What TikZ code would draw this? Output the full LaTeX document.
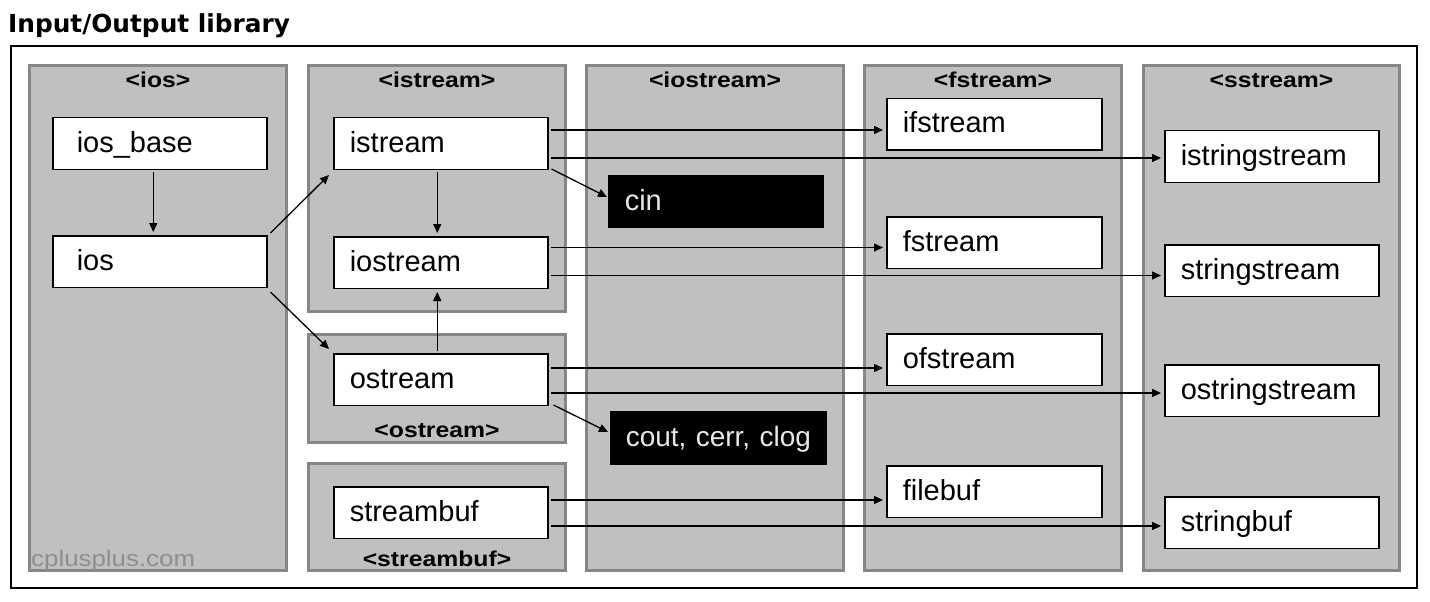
\documentclass[tikz,border=0pt]{standalone}
\usepackage{fontspec}
\setmainfont{Liberation Sans}
\newfontfamily\titlefont{DejaVu Sans}
\newfontfamily\hdrfamily[FakeStretch=1.15]{Liberation Sans}
\usetikzlibrary{arrows.meta}
\definecolor{panelfill}{HTML}{C0C0C0}
\definecolor{panelline}{HTML}{868686}
\definecolor{wmgray}{HTML}{8E8E8E}
\definecolor{inv}{HTML}{E8E8E8}
\begin{document}
\begin{tikzpicture}[x=1bp,y=-1bp,
  panel/.style={draw=panelline, fill=panelfill, line width=3bp, anchor=north west, inner sep=0pt},
  hdr/.style={anchor=base, inner sep=0pt, font=\hdrfamily\bfseries\fontsize{21.5bp}{25bp}\selectfont},
  box/.style={draw=black, fill=white, line width=1.5bp, anchor=north west, minimum height=51.5bp,
    inner xsep=16bp, inner ysep=0pt, text width=182bp, align=left, text height=21bp, text depth=4bp,
    font=\fontsize{29bp}{34bp}\selectfont},
  iosbox/.style={box, inner xsep=24bp, text width=166bp},
  blackbox/.style={box, fill=black, text=inv},
  arr/.style={line width=1.3bp, -{Triangle[length=9bp,width=8bp]}, shorten <=2bp, shorten >=3bp},
  darr/.style={line width=1.3bp, -{Triangle[length=9bp,width=8bp]}}
]
\useasboundingbox[fill=white] (0,0) rectangle (1430,602);

\node[anchor=base west, inner sep=0pt, font=\titlefont\bfseries\fontsize{24.8bp}{30bp}\selectfont] (title) at (8,33) {Input/Output library};

\node[draw=black, line width=2bp, anchor=north west, minimum width=1406bp, minimum height=541.5bp, inner sep=0pt] (frame) at (10,45.5) {};

% panels
\node[panel, minimum width=257bp, minimum height=505bp] (pios) at (28,64) {};
\node[panel, minimum width=257bp, minimum height=246bp] (pistream) at (307,64) {};
\node[panel, minimum width=257bp, minimum height=108bp] (postream) at (307,333) {};
\node[panel, minimum width=257bp, minimum height=107bp] (pstreambuf) at (307,462) {};
\node[panel, minimum width=257bp, minimum height=505bp] (piostream) at (585,64) {};
\node[panel, minimum width=257bp, minimum height=505bp] (pfstream) at (863,64) {};
\node[panel, minimum width=256bp, minimum height=505bp] (psstream) at (1142,64) {};

% headers
\node[hdr] (hios) at (158,87.5) {<ios>};
\node[hdr] (histream) at (437,87.5) {<istream>};
\node[hdr] (hiostream) at (715,87.5) {<iostream>};
\node[hdr] (hfstream) at (993,87.5) {<fstream>};
\node[hdr] (hsstream) at (1271.5,87.5) {<sstream>};
\node[hdr] (hostream) at (437,437) {<ostream>};
\node[hdr] (hstreambuf) at (437,566) {<streambuf>};

\node[anchor=base west, inner sep=0pt, text=wmgray, font=\hdrfamily\fontsize{22.5bp}{26bp}\selectfont] (wm) at (31,566) {cplusplus.com};

% boxes
\node[iosbox] (iosbase) at (52,117) {ios\_base};
\node[iosbox] (ios) at (52,235) {ios};
\node[box] (istream) at (333,117) {istream};
\node[box] (iostream) at (333,236) {iostream};
\node[box] (ostream) at (333,353) {ostream};
\node[box] (streambuf) at (333,486) {streambuf};
\node[blackbox] (cin) at (608,175) {cin};
\node[blackbox, inner xsep=15bp, text width=185bp, minimum height=52.5bp, font=\fontsize{28bp}{33bp}\selectfont] (cout) at (610,411) {\mbox{cout, cerr, clog}};
\node[box, text width=183bp] (ifstream) at (886,98) {ifstream};
\node[box, text width=183bp] (fstream) at (886,216) {fstream};
\node[box, text width=183bp] (ofstream) at (886,333) {ofstream};
\node[box, text width=183bp] (filebuf) at (886,465) {filebuf};
\node[box] (istringstream) at (1164,130) {istringstream};
\node[box] (stringstream) at (1164,244) {stringstream};
\node[box] (ostringstream) at (1164,364) {ostringstream};
\node[box] (stringbuf) at (1164,496) {stringbuf};

% connector start points
\coordinate (s1) at ([yshift=13.5bp]istream.east);
\coordinate (s2) at ([yshift=-14.5bp]istream.east);
\coordinate (s3) at ([yshift=15bp]iostream.east);
\coordinate (s4) at ([yshift=-13bp]iostream.east);
\coordinate (s5) at ([yshift=11.5bp]ostream.east);
\coordinate (s6) at ([yshift=-13.5bp]ostream.east);
\coordinate (s7) at ([yshift=12.5bp]streambuf.east);
\coordinate (s8) at ([yshift=-13.5bp]streambuf.east);
\coordinate (v1) at ([xshift=-6.5bp]iosbase.south);
\coordinate (v2) at ([xshift=-3.5bp]istream.south);
\coordinate (v3) at ([xshift=-3.5bp]ostream.north);

\draw[arr] (s1) -- (s1 -| ifstream.west);
\draw[arr] (s2) -- (s2 -| istringstream.west);
\draw[arr] (s3) -- (s3 -| fstream.west);
\draw[arr] (s4) -- (s4 -| stringstream.west);
\draw[arr] (s5) -- (s5 -| ofstream.west);
\draw[arr] (s6) -- (s6 -| ostringstream.west);
\draw[arr] (s7) -- (s7 -| filebuf.west);
\draw[arr] (s8) -- (s8 -| stringbuf.west);

\draw[arr] (v1) -- (v1 |- ios.north);
\draw[arr] (v2) -- (v2 |- iostream.north);
\draw[arr] (v3) -- (v3 |- iostream.south);

\draw[darr] ([xshift=3bp,yshift=2bp]ios.north east) -- ([xshift=-4bp,yshift=-5bp]istream.south west);
\draw[darr] ([xshift=3bp,yshift=-4bp]ios.south east) -- ([xshift=-4bp,yshift=4bp]ostream.north west);
\draw[darr] ([xshift=3bp,yshift=1bp]istream.south east) -- ([xshift=-1bp,yshift=4.5bp]cin.west);
\draw[darr] ([xshift=5bp,yshift=1bp]ostream.south east) -- ([xshift=-2bp,yshift=6bp]cout.west);
\end{tikzpicture}
\end{document}
